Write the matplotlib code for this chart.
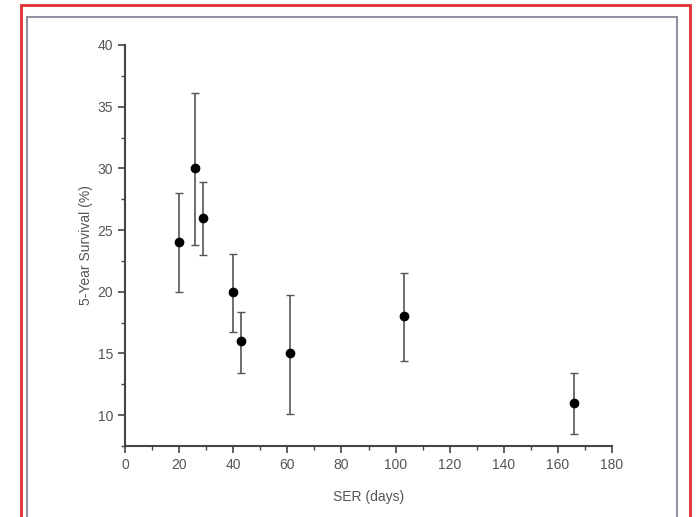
import matplotlib.pyplot as plt
from matplotlib.patches import Rectangle
from matplotlib.ticker import MultipleLocator

plt.rcParams['font.family'] = ['Liberation Sans', 'DejaVu Sans']

# data
ser_days = [20, 26, 29, 40, 43, 61, 103, 166]
survival = [24, 30, 26, 20, 16, 15, 18, 11]
err_low = [20.0, 23.8, 23.0, 16.7, 13.4, 10.1, 14.4, 8.5]
err_high = [28.0, 36.1, 28.9, 23.1, 18.4, 19.7, 21.5, 13.4]

yerr = [[s - lo for s, lo in zip(survival, err_low)],
        [hi - s for s, hi in zip(survival, err_high)]]

fig = plt.figure(figsize=(6.96, 5.17), dpi=100)
W, H = 696, 517

# outer red frame and inner grey frame
fig.patches.append(Rectangle((21 / W, -0.05), (690 - 21) / W, (H - 5) / H + 0.05,
                             transform=fig.transFigure, fill=False,
                             edgecolor='#e03030', linewidth=2))
fig.patches.append(Rectangle((27 / W, -0.05), (677 - 27) / W, (H - 17) / H + 0.05,
                             transform=fig.transFigure, fill=False,
                             edgecolor='#9090a0', linewidth=1.5))

ax = fig.add_axes([125 / W, (H - 446) / H, (612 - 125) / W, (446 - 45) / H])

ax.errorbar(ser_days, survival, yerr=yerr, fmt='o', color='black',
            markersize=6, ecolor='#555555', elinewidth=1.2,
            capsize=3, capthick=1)

ax.set_xlim(0, 180)
ax.set_ylim(7.5, 40)
ax.xaxis.set_major_locator(MultipleLocator(20))
ax.xaxis.set_minor_locator(MultipleLocator(10))
ax.yaxis.set_major_locator(MultipleLocator(5))
ax.yaxis.set_minor_locator(MultipleLocator(2.5))
ax.set_yticks([10, 15, 20, 25, 30, 35, 40])

for s in ['top', 'right']:
    ax.spines[s].set_visible(False)
for s in ['left', 'bottom']:
    ax.spines[s].set_color('#444444')
    ax.spines[s].set_linewidth(1.5)

ax.tick_params(which='major', length=5, width=1.2, color='#444444',
               labelcolor='#555555', labelsize=10)
ax.tick_params(which='minor', length=3, width=1, color='#444444')

ax.set_xlabel('SER (days)', color='#555555', fontsize=10, labelpad=13)
ax.set_ylabel('5-Year Survival (%)', color='#555555', fontsize=10, labelpad=3)

fig.savefig('out.png', dpi=100)
